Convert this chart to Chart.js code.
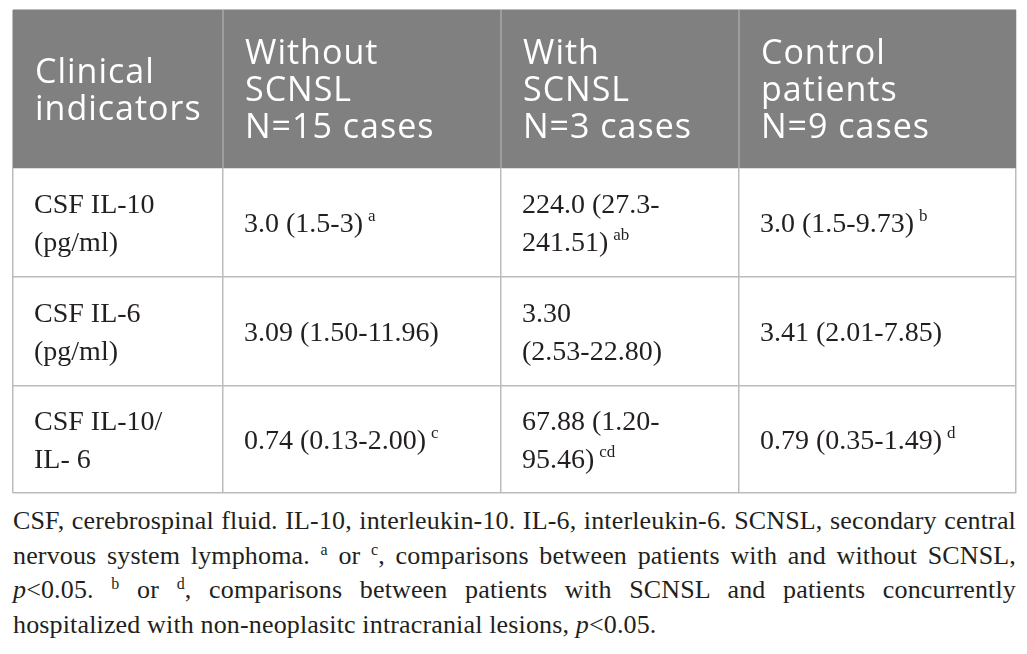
<!DOCTYPE html>
<html>
<head>
<meta charset="utf-8">
<script src="https://cdn.jsdelivr.net/npm/chart.js@4"></script>
<style>
    body { margin: 0; background: #fff; width: 1027px; height: 654px; overflow: hidden; position: relative; }
    #wrap { position: absolute; left: 0; top: 0; width: 1027px; height: 500px; }
    #note {
        position: absolute; left: 13px; top: 504px; width: 1003px;
        font-family: "Liberation Serif", serif; font-size: 26px; line-height: 34.5px; color: #231f20;
        letter-spacing: 0.15px;
    }
    #note div { text-align: justify; text-align-last: justify; white-space: nowrap; }
    #note div.last { text-align-last: left; }
    #note sup { font-size: 16px; line-height: 0; vertical-align: 9px; }
</style>
</head>
<body>
<div id="wrap"><canvas id="table"></canvas></div>
<div id="note">
    <div>CSF, cerebrospinal fluid. IL-10, interleukin-10. IL-6, interleukin-6. SCNSL, secondary central</div>
    <div>nervous system lymphoma. <sup>a</sup> or <sup>c</sup>, comparisons between patients with and without SCNSL,</div>
    <div><i>p</i>&lt;0.05. <sup>b</sup> or <sup>d</sup>, comparisons between patients with SCNSL and patients concurrently</div>
    <div class="last">hospitalized with non-neoplasitc intracranial lesions, <i>p</i>&lt;0.05.</div>
</div>
<script>
// table content
const headers = [
    ['Clinical', 'indicators'],
    ['Without', 'SCNSL', 'N=15 cases'],
    ['With', 'SCNSL', 'N=3 cases'],
    ['Control', 'patients', 'N=9 cases'],
];
const indicators = [
    ['CSF IL-10', '(pg/ml)'],
    ['CSF IL-6', '(pg/ml)'],
    ['CSF IL-10/', 'IL- 6'],
];
const withoutSCNSL = [['3.0 (1.5-3)'], ['3.09 (1.50-11.96)'], ['0.74 (0.13-2.00)']];
const withSCNSL = [['224.0 (27.3-', '241.51)'], ['3.30', '(2.53-22.80)'], ['67.88 (1.20-', '95.46)']];
const controls = [['3.0 (1.5-9.73)'], ['3.41 (2.01-7.85)'], ['0.79 (0.35-1.49)']];
const marksWithout = ['a', '', 'c'];
const marksWith = ['ab', '', 'cd'];
const marksControl = ['b', '', 'd'];

// layout (table units = px)
const colWidths = [210, 278, 238, 277];
const rowHeights = [158, 109, 109, 107];

function edges(sizes) {
    const out = [0];
    sizes.forEach(s => out.push(out[out.length - 1] + s));
    return out;
}
const colEdges = edges(colWidths);
const rowEdges = edges(rowHeights);

function bodyColumn(c) {
    if (c === 0) return indicators.map(lines => ({ lines, mark: '' }));
    const vals = [withoutSCNSL, withSCNSL, controls][c - 1];
    const marks = [marksWithout, marksWith, marksControl][c - 1];
    return vals.map((lines, i) => ({ lines, mark: marks[i] }));
}

function drawLines(ctx, lines, mark, x, yMid, lineH, capH, font, supFont) {
    const top = yMid - (lines.length - 1) * lineH / 2;
    lines.forEach((line, i) => {
        const base = top + i * lineH + capH / 2;
        ctx.font = font;
        ctx.fillText(line, x, base);
        if (mark && i === lines.length - 1) {
            const w = ctx.measureText(line + ' ').width;
            ctx.font = supFont;
            ctx.fillText(mark, x + w - 2, base - 11);
        }
    });
}

const tablePlugin = {
    id: 'tableCells',
    beforeDatasetsDraw(chart) {
        const { ctx, scales: { x, y } } = chart;
        const x0 = x.getPixelForValue(0), x1 = x.getPixelForValue(colEdges[colEdges.length - 1]);
        const y0 = y.getPixelForValue(0), y1 = y.getPixelForValue(rowEdges[1]);
        ctx.save();
        ctx.fillStyle = '#808080';
        ctx.fillRect(x0, y0, x1 - x0, y1 - y0);
        ctx.strokeStyle = '#a9a9a9';
        ctx.lineWidth = 1.5;
        colEdges.slice(1, -1).forEach(v => {
            const px = x.getPixelForValue(v);
            ctx.beginPath();
            ctx.moveTo(px, y0);
            ctx.lineTo(px, y1);
            ctx.stroke();
        });
        ctx.restore();
    },
    afterDatasetsDraw(chart) {
        const { ctx, scales: { x, y } } = chart;
        ctx.save();
        ctx.textBaseline = 'alphabetic';
        // header row
        ctx.fillStyle = '#ffffff';
        ctx.letterSpacing = '1px';
        const hMid = (y.getPixelForValue(rowEdges[0]) + y.getPixelForValue(rowEdges[1])) / 2;
        headers.forEach((lines, c) => {
            const px = x.getPixelForValue(colEdges[c]) + 22;
            drawLines(ctx, lines, '', px, hMid, 37, 24, '34px "Open Sans"', '');
        });
        ctx.letterSpacing = '0px';
        // body rows
        ctx.fillStyle = '#231f20';
        for (let c = 0; c < colWidths.length; c++) {
            bodyColumn(c).forEach((cell, r) => {
                const px = x.getPixelForValue(colEdges[c]) + 21;
                const mid = (y.getPixelForValue(rowEdges[r + 1]) + y.getPixelForValue(rowEdges[r + 2])) / 2;
                drawLines(ctx, cell.lines, cell.mark, px, mid, 37.5, 18.5,
                    '28px "Liberation Serif"', '17px "Liberation Serif"');
            });
        }
        ctx.restore();
    }
};

const gridLine = { color: '#bcbcbc', lineWidth: 1.5, drawTicks: false };

new Chart(document.getElementById('table'), {
    type: 'scatter',
    data: { datasets: [{ data: [], pointRadius: 0 }] },
    options: {
        responsive: true,
        maintainAspectRatio: false,
        animation: false,
        events: [],
        layout: { padding: { left: 13, top: 10, right: 11, bottom: 7 } },
        plugins: { legend: { display: false }, tooltip: { enabled: false } },
        scales: {
            x: {
                type: 'linear',
                min: 0,
                max: colEdges[colEdges.length - 1],
                afterBuildTicks: scale => { scale.ticks = colEdges.map(v => ({ value: v })); },
                ticks: { display: false },
                grid: gridLine,
                border: { display: false }
            },
            y: {
                type: 'linear',
                reverse: true,
                min: 0,
                max: rowEdges[rowEdges.length - 1],
                afterBuildTicks: scale => { scale.ticks = rowEdges.map(v => ({ value: v })); },
                ticks: { display: false },
                grid: gridLine,
                border: { display: false }
            }
        }
    },
    plugins: [tablePlugin]
});
</script>
</body>
</html>
